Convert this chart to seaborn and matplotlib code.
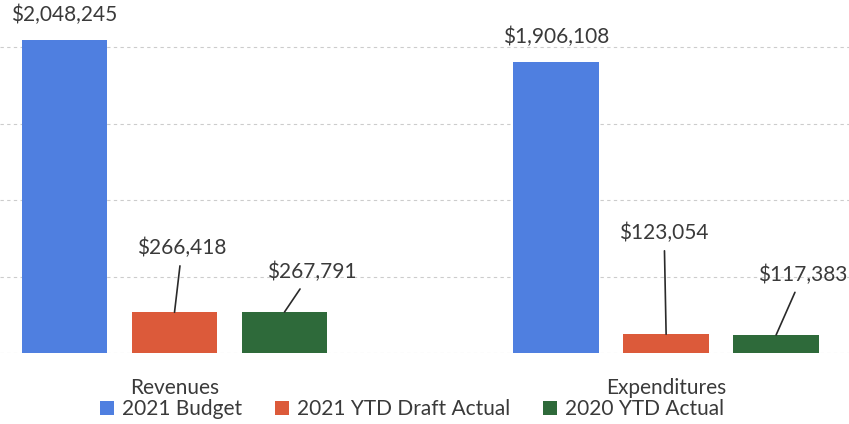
import matplotlib
matplotlib.use('Agg')
import matplotlib.pyplot as plt
import seaborn as sns
import pandas as pd

# ---- data ----
categories = ['Revenues', 'Expenditures']
series = ['2021 Budget', '2021 YTD Draft Actual', '2020 YTD Actual']
budget_2021 = [2048245, 1906108]
ytd_draft_2021 = [266418, 123054]
ytd_actual_2020 = [267791, 117383]
grid_values = [0, 500000, 1000000, 1500000, 2000000]

# ---- style / layout ----
colors = ['#4f7fe0', '#dc5a3a', '#2e6a3a']
text_color = '#3a3a3a'
# label offsets in pixels (dx, dy) per series, per category; leader line drawn when draw_line
label_offsets = [[(0, 25), (0, 25)],
                 [(7.5, 64), (-2, 101)],
                 [(27, 40), (26.5, 60)]]
draw_line = [False, True, True]

sns.set_theme(style='white')
plt.rcParams['font.family'] = ['Lato', 'DejaVu Sans']

df = pd.DataFrame({
    'category': categories * 3,
    'series': [s for s in series for _ in categories],
    'value': budget_2021 + ytd_draft_2021 + ytd_actual_2020,
})

fig = plt.figure(figsize=(8.49, 4.24), dpi=100)
ax = fig.add_axes([0, 71 / 424, 1, 354 / 424])

sns.barplot(data=df, x='category', y='value', hue='series', order=categories,
            hue_order=series, palette=colors, saturation=1, width=0.671, gap=0.22,
            errorbar=None, legend=False, linewidth=0, ax=ax)

ax.set_xlim(-0.355, 1.372)
ax.set_ylim(0, 2315000)
ax.set_yticks(grid_values)
ax.set_axisbelow(True)
ax.yaxis.grid(True, color='#cccccc', linestyle=(0, (3, 3)), linewidth=0.8)
ax.xaxis.grid(False)
ax.tick_params(axis='y', length=0, labelleft=False)
ax.tick_params(axis='x', length=0, pad=18, labelsize=15, labelcolor=text_color)
ax.set_xlabel('')
ax.set_ylabel('')
sns.despine(ax=ax, left=True, bottom=True)

for si, cont in enumerate(ax.containers):
    for ci, bar in enumerate(cont.patches):
        x = bar.get_x() + bar.get_width() / 2
        y = bar.get_height()
        dx, dy = label_offsets[si][ci]
        kw = {}
        if draw_line[si]:
            kw['arrowprops'] = dict(arrowstyle='-', color='#2a2a2a', lw=1.2,
                                    shrinkA=3, shrinkB=0)
        ax.annotate(f'${y:,.0f}', xy=(x, y), xytext=(dx, dy),
                    textcoords='offset pixels', ha='center', va='center',
                    fontsize=15, color=text_color, **kw)

handles = [c.patches[0] for c in ax.containers]
fig.legend(handles, series, loc='center', bbox_to_anchor=(412 / 849, 1 - 409 / 424),
           ncol=3, frameon=False, fontsize=15, handlelength=0.67, handleheight=0.67,
           handletextpad=0.38, columnspacing=1.57, labelcolor=text_color,
           borderpad=0, borderaxespad=0)

fig.savefig('out.png', dpi=100)
